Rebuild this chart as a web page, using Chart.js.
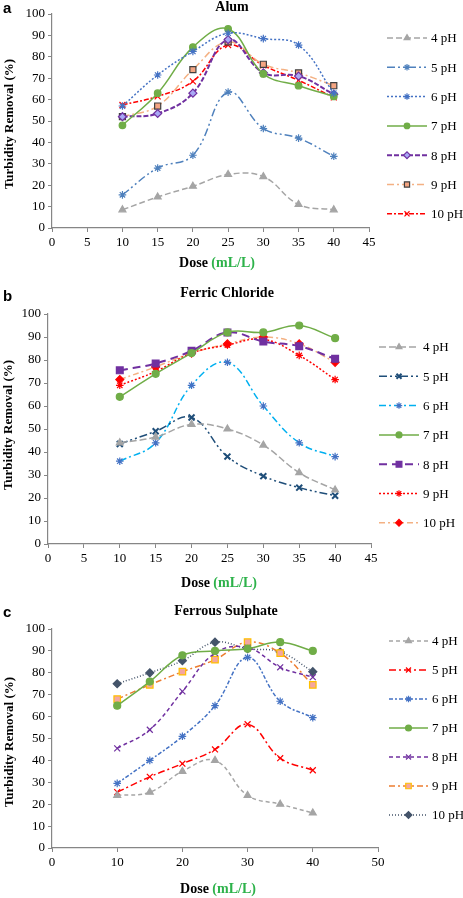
<!DOCTYPE html>
<html>
<head>
<meta charset="utf-8">
<script src="https://cdn.jsdelivr.net/npm/chart.js@4/dist/chart.umd.min.js"></script>
<style>
  html, body { margin: 0; padding: 0; background: #fff; }
  body { width: 463px; height: 898px; position: relative; overflow: hidden; }
  .panel { position: absolute; left: 0; width: 463px; }
</style>
</head>
<body>
<div class="panel" id="pa" style="top:0;height:285px"><canvas id="ca"></canvas></div>
<div class="panel" id="pb" style="top:285px;height:310px"><canvas id="cb"></canvas></div>
<div class="panel" id="pc" style="top:595px;height:303px"><canvas id="cc"></canvas></div>
<script>
// Data
const doses = [10, 15, 20, 25, 30, 35, 40];
const phLabels = ['4 pH', '5 pH', '6 pH', '7 pH', '8 pH', '9 pH', '10 pH'];
const yTicks = [0, 10, 20, 30, 40, 50, 60, 70, 80, 90, 100];

// Alum
const alum4 = [8.5, 14.5, 19.5, 25, 24, 11, 8.5];
const alum5 = [15.5, 28, 34, 63.5, 46.5, 42, 33.5];
const alum6 = [57, 71.5, 82.5, 91, 88.5, 85.5, 63];
const alum7 = [48, 63, 84.5, 93, 72, 66.5, 61.5];
const alum8 = [52, 53.5, 63, 88, 72.5, 71, 62.5];
const alum9 = [52, 57, 74, 87, 76.5, 72.5, 66.5];
const alum10 = [57.5, 61.5, 68.5, 85.5, 76, 69, 61];

// Ferric Chloride
const ferric4 = [44, 46.5, 52, 50, 43, 31, 23.5];
const ferric5 = [43.5, 49, 55, 38, 29.5, 24.5, 21];
const ferric6 = [36, 44, 69, 79, 60, 44, 38];
const ferric7 = [64, 74, 83, 92, 92, 95, 89.5];
const ferric8 = [75.5, 78.5, 84, 92, 88, 86, 80.5];
const ferric9 = [69, 75, 83, 86.5, 89, 82, 71.5];
const ferric10 = [71.5, 77, 83, 87, 90, 87, 79];

// Ferrous Sulphate
const ferrous4 = [24, 25.5, 35, 40, 24, 20, 16];
const ferrous5 = [25.5, 32.5, 38.5, 45, 56.5, 41, 35.5];
const ferrous6 = [29.5, 40, 51, 65, 87, 67, 59.5];
const ferrous7 = [65, 76, 88, 90, 91, 94, 90];
const ferrous8 = [45.5, 54, 71.5, 89, 91.5, 82.5, 78];
const ferrous9 = [68, 74.5, 80.5, 86, 94, 89, 74.5];
const ferrous10 = [75, 80, 85.5, 94, 91, 89.5, 80.5];

// Styles
const alumStyles = [
  { c: '#A5A5A5', dash: [6, 3], pt: 'triangle', fill: '#A5A5A5', r: 4 },
  { c: '#4F81BD', dash: [8, 3, 2, 3, 2, 3], pt: 'star', fill: '#4F81BD', r: 3.8 },
  { c: '#4472C4', dash: [2, 2], pt: 'star', fill: '#4472C4', r: 3.8 },
  { c: '#70AD47', dash: [], pt: 'circle', fill: '#70AD47', r: 3.3 },
  { c: '#7030A0', dash: [5, 2], pt: 'rectRot', fill: '#A9A9F5', pc: '#7030A0', r: 4, w: 2 },
  { c: '#F4B183', dash: [7, 3, 2, 3], pt: 'rect', fill: '#F4A582', pc: '#404040', r: 4.3 },
  { c: '#FF0000', dash: [5, 2, 2, 2], pt: 'crossRot', fill: '#FF0000', r: 4.2 }
];
const ferricStyles = [
  { c: '#A5A5A5', dash: [7, 3], pt: 'triangle', fill: '#A5A5A5', r: 4 },
  { c: '#1F4E79', dash: [8, 3, 2, 3, 2, 3], pt: 'crossRot', fill: '#1F4E79', r: 4.2, pw: 2 },
  { c: '#00B0F0', dash: [7, 3, 2, 3], pt: 'star', fill: '#4472C4', pc: '#4472C4', r: 3.8 },
  { c: '#70AD47', dash: [], pt: 'circle', fill: '#70AD47', r: 3.5 },
  { c: '#7030A0', dash: [8, 5], pt: 'rect', fill: '#7030A0', r: 4.8, w: 2 },
  { c: '#FF0000', dash: [2, 2], pt: 'star', fill: '#FF0000', r: 3.8 },
  { c: '#F4B183', dash: [6, 3, 2, 3], pt: 'rectRot', fill: '#FF0000', pc: '#FF0000', r: 4 }
];
const ferrousStyles = [
  { c: '#A5A5A5', dash: [4, 3], pt: 'triangle', fill: '#A5A5A5', r: 4 },
  { c: '#FF0000', dash: [7, 3, 2, 3], pt: 'crossRot', fill: '#FF0000', r: 4.2 },
  { c: '#4472C4', dash: [4, 2, 2, 2], pt: 'star', fill: '#4472C4', r: 3.8 },
  { c: '#70AD47', dash: [], pt: 'circle', fill: '#70AD47', r: 3.5 },
  { c: '#7030A0', dash: [4, 3], pt: 'crossRot', fill: '#7030A0', r: 4.2 },
  { c: '#ED7D31', dash: [6, 3, 2, 3], pt: 'rect', fill: '#F4A6A0', pc: '#FFC000', r: 4.6 },
  { c: '#44546A', dash: [1, 2], pt: 'rectRot', fill: '#44546A', r: 4 }
];

const SERIF = '"Liberation Serif", "DejaVu Serif", serif';

function buildDatasets(series, styles) {
  return series.map((vals, i) => {
    const s = styles[i];
    return {
      label: phLabels[i],
      data: doses.map((d, k) => ({ x: d, y: vals[k] })),
      borderColor: s.c,
      borderWidth: s.w || 1.5,
      borderDash: s.dash,
      tension: 0.4,
      pointStyle: s.pt,
      pointRadius: s.r,
      pointBackgroundColor: s.fill,
      pointBorderColor: s.pc || s.fill,
      pointBorderWidth: s.pw || 1.2,
      fill: false
    };
  });
}

// draws letter, title, axis titles and the legend
const decorPlugin = {
  id: 'decor',
  afterDraw(chart, args, o) {
    const ctx = chart.ctx;
    ctx.save();
    ctx.fillStyle = '#000';
    ctx.textBaseline = 'middle';
    ctx.font = 'bold 15px "Liberation Sans", Arial, sans-serif';
    ctx.textAlign = 'left';
    ctx.fillText(o.letter, 3, o.letterY);

    ctx.font = 'bold 14px ' + SERIF;
    ctx.textAlign = 'center';
    ctx.fillText(o.title, o.titleX, o.titleY);

    // y-axis title
    ctx.save();
    ctx.translate(o.yTitleX, o.yTitleY);
    ctx.rotate(-Math.PI / 2);
    ctx.font = 'bold 13px ' + SERIF;
    ctx.fillText('Turbidity Removal (%)', 0, 0);
    ctx.restore();

    // x-axis title, two colours
    ctx.font = 'bold 14px ' + SERIF;
    const p1 = 'Dose ', p2 = '(mL/L)';
    const w1 = ctx.measureText(p1).width, w2 = ctx.measureText(p2).width;
    let x0 = o.xTitleX - (w1 + w2) / 2;
    ctx.textAlign = 'left';
    ctx.fillStyle = '#000';
    ctx.fillText(p1, x0, o.xTitleY);
    ctx.fillStyle = '#2DB24A';
    ctx.fillText(p2, x0 + w1, o.xTitleY);

    // legend
    ctx.font = '13px ' + SERIF;
    chart.data.datasets.forEach((ds, i) => {
      const y = o.legY + i * o.legStep;
      ctx.save();
      ctx.strokeStyle = ds.borderColor;
      ctx.lineWidth = ds.borderWidth;
      ctx.setLineDash(ds.borderDash);
      ctx.beginPath();
      ctx.moveTo(o.legX1, y);
      ctx.lineTo(o.legX2, y);
      ctx.stroke();
      ctx.setLineDash([]);
      ctx.fillStyle = ds.pointBackgroundColor;
      ctx.strokeStyle = ds.pointBorderColor;
      ctx.lineWidth = ds.pointBorderWidth;
      Chart.helpers.drawPoint(ctx, { pointStyle: ds.pointStyle, radius: ds.pointRadius * 0.85, rotation: 0, borderWidth: ds.pointBorderWidth }, (o.legX1 + o.legX2) / 2, y);
      ctx.restore();
      ctx.fillStyle = '#000';
      ctx.textAlign = 'left';
      ctx.fillText(ds.label, o.legText, y + 1);
    });
    ctx.restore();
  }
};

function makeChart(id, series, styles, cfg) {
  const el = document.getElementById(id);
  return new Chart(el, {
    type: 'line',
    data: { datasets: buildDatasets(series, styles) },
    plugins: [decorPlugin],
    options: {
      responsive: true,
      maintainAspectRatio: false,
      animation: false,
      layout: { padding: { top: cfg.top, right: 463 - cfg.right, left: 0, bottom: 0 } },
      plugins: {
        legend: { display: false },
        tooltip: { enabled: false },
        decor: cfg.decor
      },
      scales: {
        x: {
          type: 'linear',
          min: 0, max: cfg.xMax,
          ticks: { stepSize: cfg.xStep, color: '#000', font: { family: SERIF, size: 13 }, padding: 3, maxRotation: 0 },
          grid: { drawOnChartArea: false, color: '#868686', tickLength: 4 },
          border: { color: '#868686', width: 1.2 },
          afterFit(s) { s.height = cfg.height - cfg.bottom; }
        },
        y: {
          min: 0, max: 100,
          afterBuildTicks(s) { s.ticks = yTicks.map(v => ({ value: v })); },
          ticks: { color: '#000', font: { family: SERIF, size: 13 }, padding: 3 },
          grid: { drawOnChartArea: false, color: '#868686', tickLength: 4 },
          border: { color: '#868686', width: 1.2 },
          afterFit(s) { s.width = cfg.left; }
        }
      }
    }
  });
}

makeChart('ca', [alum4, alum5, alum6, alum7, alum8, alum9, alum10], alumStyles, {
  top: 14, right: 369, left: 52, bottom: 228, height: 285, xMax: 45, xStep: 5,
  decor: { letter: 'a', letterY: 9, title: 'Alum', titleX: 232, titleY: 7,
    yTitleX: 10, yTitleY: 124, xTitleX: 217, xTitleY: 263,
    legY: 38, legStep: 29.3, legX1: 387, legX2: 427, legText: 431 }
});
makeChart('cb', [ferric4, ferric5, ferric6, ferric7, ferric8, ferric9, ferric10], ferricStyles, {
  top: 29, right: 371, left: 48, bottom: 259, height: 310, xMax: 45, xStep: 5,
  decor: { letter: 'b', letterY: 12, title: 'Ferric Chloride', titleX: 227, titleY: 8,
    yTitleX: 9, yTitleY: 140, xTitleX: 219, xTitleY: 298,
    legY: 62, legStep: 29.3, legX1: 379, legX2: 419, legText: 423 }
});
makeChart('cc', [ferrous4, ferrous5, ferrous6, ferrous7, ferrous8, ferrous9, ferrous10], ferrousStyles, {
  top: 34, right: 378, left: 52, bottom: 253, height: 303, xMax: 50, xStep: 10,
  decor: { letter: 'c', letterY: 18, title: 'Ferrous Sulphate', titleX: 226, titleY: 16,
    yTitleX: 10, yTitleY: 147, xTitleX: 218, xTitleY: 294,
    legY: 46, legStep: 29, legX1: 389, legX2: 428, legText: 432 }
});
</script>
</body>
</html>
